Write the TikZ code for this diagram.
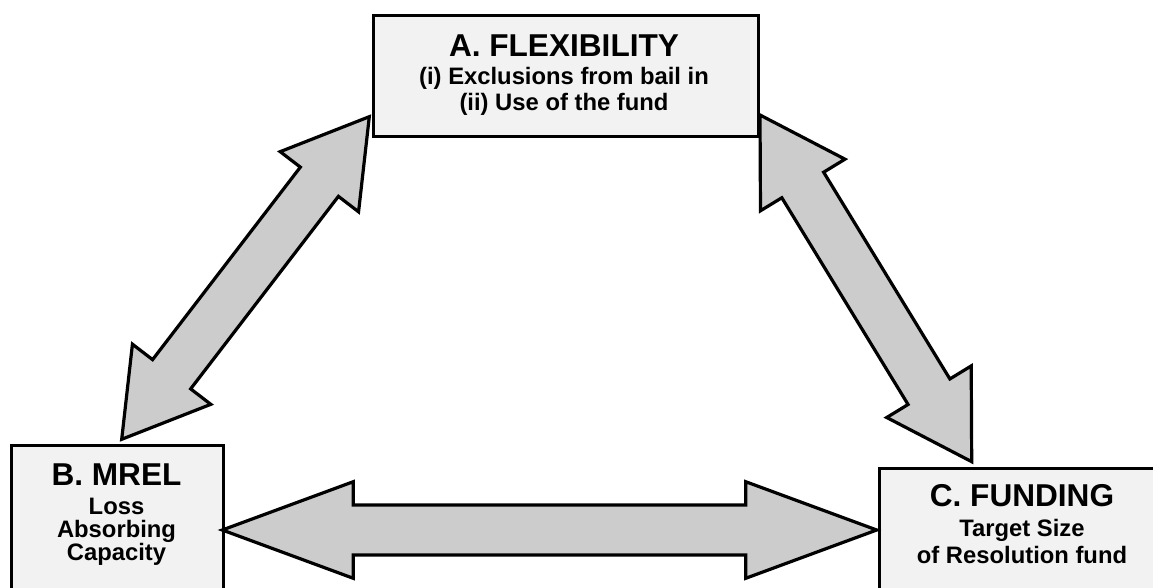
\documentclass[tikz,border=0pt]{standalone}
\usepackage{fontspec}
\setmainfont{Liberation Sans}
\usetikzlibrary{calc}
\definecolor{boxfill}{HTML}{F2F2F2}
\definecolor{arrfill}{HTML}{CCCCCC}
\tikzset{
  box/.style={draw=black, line width=2.8pt, fill=boxfill, rectangle, inner sep=0pt, anchor=north west},
  barrow/.style={draw=black, line width=3.2pt, fill=arrfill, line join=miter},
  ttl/.style={anchor=base, inner sep=0pt, font=\fontsize{31.6}{36}\selectfont\bfseries},
  sub/.style={anchor=base, inner sep=0pt, font=\fontsize{23.8}{28}\selectfont\bfseries}
}
\newcommand\dblarrow[5]{%
  \draw[barrow] (#1)
   -- ($(#1)!#5!(#2)!#4!90:(#2)$)
   -- ($(#1)!#5!(#2)!#3!90:(#2)$)
   -- ($(#2)!#5!(#1)!#3!-90:(#1)$)
   -- ($(#2)!#5!(#1)!#4!-90:(#1)$)
   -- (#2)
   -- ($(#2)!#5!(#1)!#4!90:(#1)$)
   -- ($(#2)!#5!(#1)!#3!90:(#1)$)
   -- ($(#1)!#5!(#2)!#3!-90:(#2)$)
   -- ($(#1)!#5!(#2)!#4!-90:(#2)$)
   -- cycle;}
\begin{document}
\begin{tikzpicture}[x=1pt,y=-1pt]
\useasboundingbox (0,0) rectangle (1153,588);
\clip (0,0) rectangle (1153,588);
\fill[white] (0,0) rectangle (1153,588);
% boxes
\node[box, minimum width=385, minimum height=121] (A) at (372,14) {};
\node[box, minimum width=211.7, minimum height=200] (B) at (10,444) {};
\node[box, minimum width=290, minimum height=200] (C) at (878.3,467.3) {};
% texts
\node[ttl] (At) at (564,56.7) {A. FLEXIBILITY};
\node[sub] (A1) at (564,85) {(i) Exclusions from bail in};
\node[sub] (A2) at (564,111) {(ii) Use of the fund};
\node[ttl] (Bt) at (116.5,485) {B. MREL};
\node[sub] (B1) at (116.5,514) {Loss};
\node[sub] (B2) at (116.5,537) {Absorbing};
\node[sub] (B3) at (116.5,560.5) {Capacity};
\node[ttl] (Ct) at (1022,506) {C. FUNDING};
\node[sub] (C1) at (1022,536.7) {Target Size};
\node[sub] (C2) at (1022,563.5) {of Resolution fund};
% arrow tips
\coordinate (h1) at (222.3,530);
\coordinate (h2) at (876.7,530);
\coordinate (l1) at (369.3,116.7);
\coordinate (l2) at (121.7,439.3);
\coordinate (r1) at (760,115);
\coordinate (r2) at (971.7,461.7);
\dblarrow{h1}{h2}{25pt}{48.3pt}{131pt}
\dblarrow{l1}{l2}{24pt}{49.4pt}{82pt}
\dblarrow{r1}{r2}{24.5pt}{49.5pt}{82pt}
\end{tikzpicture}
\end{document}
